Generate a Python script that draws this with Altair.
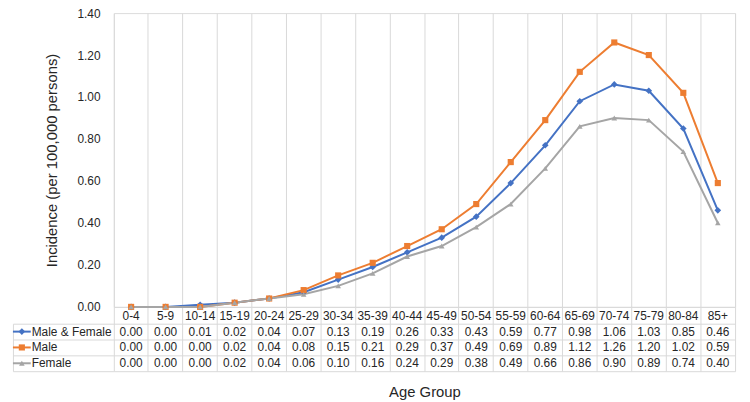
import altair as alt
import pandas as pd

# ---------------- data ----------------
categories = ["0-4", "5-9", "10-14", "15-19", "20-24", "25-29", "30-34", "35-39",
              "40-44", "45-49", "50-54", "55-59", "60-64", "65-69", "70-74",
              "75-79", "80-84", "85+"]
series_names = ["Male & Female", "Male", "Female"]
male_female = [0.00, 0.00, 0.01, 0.02, 0.04, 0.07, 0.13, 0.19, 0.26, 0.33, 0.43,
               0.59, 0.77, 0.98, 1.06, 1.03, 0.85, 0.46]
male = [0.00, 0.00, 0.00, 0.02, 0.04, 0.08, 0.15, 0.21, 0.29, 0.37, 0.49,
        0.69, 0.89, 1.12, 1.26, 1.20, 1.02, 0.59]
female = [0.00, 0.00, 0.00, 0.02, 0.04, 0.06, 0.10, 0.16, 0.24, 0.29, 0.38,
          0.49, 0.66, 0.86, 0.90, 0.89, 0.74, 0.40]
y_ticks = [0.0, 0.2, 0.4, 0.6, 0.8, 1.0, 1.2, 1.4]
key_slots = ["start", "mid", "end"]   # legend-key slots (line start, marker, line end)

rows = []
for name, vals in zip(series_names, [male_female, male, female]):
    for i, (c, v) in enumerate(zip(categories, vals)):
        rows.append({"age": c, "idx": i, "series": name, "value": v})
df = pd.DataFrame(rows)

key_line_df = pd.DataFrame([{"series": s, "slot": k} for s in series_names
                            for k in ("start", "end")])
key_mark_df = pd.DataFrame([{"series": s, "slot": "mid"} for s in series_names])
key_text_df = pd.DataFrame([{"series": s, "slot": "end"} for s in series_names])

# ---------------- style ----------------
FONT = "Liberation Sans"
GRID = "#d9d9d9"
TXT = "#262626"
COLORS = ["#4472C4", "#ED7D31", "#A5A5A5"]
SHAPES = ["diamond", "square", "triangle-up"]
SIZES = [45, 32, 38]
FS = 12
TFS = 15
W, H = 628, 297

xscale = alt.Scale(type="band", domain=categories, paddingInner=0, paddingOuter=0)
yscale = alt.Scale(domain=[0, 1.4], nice=False, zero=True)
cscale = alt.Scale(domain=series_names, range=COLORS)
shscale = alt.Scale(domain=series_names, range=SHAPES)
szscale = alt.Scale(domain=series_names, range=SIZES)
table_scale = alt.Scale(type="band", domain=series_names, range=[314, 362],
                        paddingInner=0, paddingOuter=0)
key_scale = alt.Scale(type="point", domain=key_slots, range=[-102, -84],
                      padding=0)

x_axis = alt.Axis(
    orient="bottom", title="Age Group", grid=True, gridColor=GRID,
    bandPosition=1, tickExtra=True,
    domain=True, domainColor=GRID, ticks=True, tickSize=65, tickColor=GRID,
    labelPadding=-56, labelBaseline="middle", labelAngle=0, labelFont=FONT,
    labelFontSize=FS, labelColor=TXT, titleFont=FONT, titleFontSize=TFS,
    titleFontWeight="normal", titleColor=TXT, titleY=86, titleBaseline="middle",
)
y_axis = alt.Axis(
    orient="left", title="Incidence (per 100,000 persons)", values=y_ticks,
    format=".2f", grid=False, domain=False, ticks=False, labelPadding=14,
    labelFont=FONT, labelFontSize=FS, labelColor=TXT, titleFont=FONT,
    titleFontSize=TFS, titleFontWeight="normal", titleColor=TXT, titleX=-63,
    titleBaseline="middle",
)

base = alt.Chart(df)

lines = base.mark_line(strokeWidth=2).encode(
    x=alt.X("age:N", sort=categories, scale=xscale, axis=x_axis),
    y=alt.Y("value:Q", scale=yscale, axis=y_axis),
    color=alt.Color("series:N", sort=series_names, scale=cscale, legend=None),
    order=alt.Order("idx:Q"),
)

points = base.mark_point(filled=True, opacity=1).encode(
    x=alt.X("age:N", sort=categories, scale=xscale, axis=x_axis),
    y=alt.Y("value:Q", scale=yscale, axis=None),
    color=alt.Color("series:N", sort=series_names, scale=cscale, legend=None),
    shape=alt.Shape("series:N", sort=series_names, scale=shscale, legend=None),
    size=alt.Size("series:N", sort=series_names, scale=szscale, legend=None),
)

table_text = base.mark_text(font=FONT, fontSize=FS, color=TXT).encode(
    x=alt.X("age:N", sort=categories, scale=xscale, axis=x_axis),
    y=alt.Y("series:N", sort=series_names, scale=table_scale,
            axis=alt.Axis(orient="left", offset=102, title=None, labels=False,
                          ticks=False, domain=True, domainColor=GRID, grid=True,
                          gridColor=GRID, bandPosition=1, tickExtra=True)),
    text=alt.Text("value:Q", format=".2f"),
)

table_rows = base.mark_text(opacity=0).encode(
    x=alt.X("age:N", sort=categories, scale=xscale, axis=x_axis),
    y=alt.Y("series:N", sort=series_names, scale=table_scale,
            axis=alt.Axis(orient="left", title=None, labels=False, ticks=True,
                          tickSize=102, tickColor=GRID, bandPosition=1,
                          tickExtra=True, domain=False, grid=False)),
    text=alt.Text("value:Q", format=".2f"),
)

main = alt.layer(lines, points, table_text, table_rows).resolve_scale(y="independent")

# ---- legend keys in the table's first column ----
key_lines = alt.Chart(key_line_df).mark_line(strokeWidth=2).encode(
    x=alt.X("slot:N", scale=key_scale, axis=None),
    y=alt.Y("series:N", sort=series_names, scale=table_scale, axis=None),
    color=alt.Color("series:N", sort=series_names, scale=cscale, legend=None),
    detail="series:N",
)
key_marks = alt.Chart(key_mark_df).mark_point(filled=True, opacity=1).encode(
    x=alt.X("slot:N", scale=key_scale, axis=None),
    y=alt.Y("series:N", sort=series_names, scale=table_scale, axis=None),
    color=alt.Color("series:N", sort=series_names, scale=cscale, legend=None),
    shape=alt.Shape("series:N", sort=series_names, scale=shscale, legend=None),
    size=alt.Size("series:N", sort=series_names, scale=szscale, legend=None),
)
key_text = alt.Chart(key_text_df).mark_text(
    align="left", dx=1, font=FONT, fontSize=FS, color=TXT
).encode(
    x=alt.X("slot:N", scale=key_scale, axis=None),
    y=alt.Y("series:N", sort=series_names, scale=table_scale, axis=None),
    text="series:N",
)
keys = alt.layer(key_lines, key_marks, key_text)

chart = alt.layer(main, keys).resolve_scale(
    x="independent", y="independent"
).properties(
    width=W, height=H,
    autosize=alt.AutoSizeParams(type="none"),
    padding={"left": 107, "top": 3, "right": 7, "bottom": 94},
).configure_view(stroke=None).configure(background="white")

chart.save("out.html", embed_options={"renderer": "svg", "actions": False})
